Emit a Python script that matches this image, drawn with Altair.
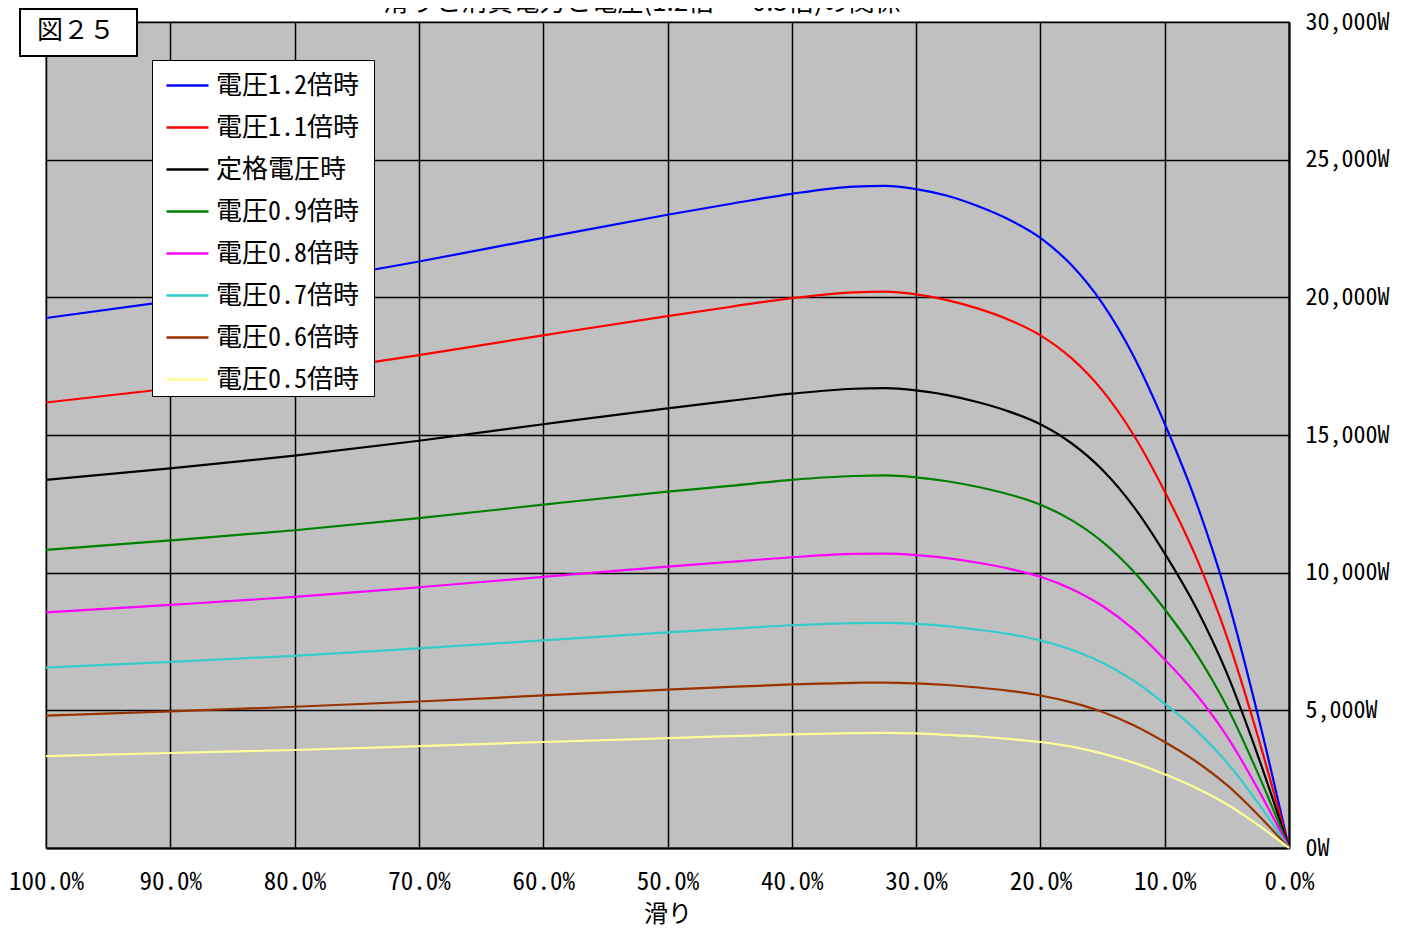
import altair as alt
import pandas as pd

# slip (%) sample points
slip = [100, 90, 80, 70, 60, 50, 45, 40, 35, 32.5, 30, 27.5, 25, 22.5, 20, 17.5, 15, 12.5, 10, 7.5, 5, 2.5, 0]

names = ["電圧1.2倍時", "電圧1.1倍時", "定格電圧時", "電圧0.9倍時",
         "電圧0.8倍時", "電圧0.7倍時", "電圧0.6倍時", "電圧0.5倍時"]
colors = ["#0000FF", "#FF0000", "#000000", "#008000",
          "#FF00FF", "#33CCCC", "#993300", "#FFFF99"]

p_12 = [19250, 19860, 20520, 21300, 22160, 23000, 23390, 23760, 24020, 24050, 23930, 23690,
        23310, 22820, 22160, 21170, 19770, 17860, 15410, 12600, 9140, 4820, 0]
p_11 = [16180, 16690, 17240, 17900, 18620, 19320, 19650, 19970, 20180, 20210, 20110, 19900,
        19590, 19180, 18620, 17790, 16610, 15000, 12950, 10590, 7680, 4050, 0]
p_10 = [13370, 13790, 14250, 14790, 15390, 15970, 16240, 16500, 16680, 16700, 16620, 16450,
        16190, 15850, 15390, 14700, 13730, 12400, 10700, 8750, 6350, 3350, 0]
p_09 = [10830, 11170, 11540, 11980, 12470, 12940, 13150, 13370, 13510, 13530, 13460, 13320,
        13110, 12840, 12470, 11910, 11120, 10040, 8670, 7090, 5140, 2710, 0]
p_08 = [8560, 8830, 9120, 9470, 9850, 10220, 10390, 10560, 10680, 10690, 10640, 10530,
        10360, 10140, 9850, 9410, 8790, 7940, 6850, 5600, 4060, 2140, 0]
p_07 = [6550, 6760, 6980, 7250, 7540, 7830, 7960, 8090, 8170, 8180, 8140, 8060,
        7930, 7770, 7540, 7200, 6730, 6080, 5240, 4290, 3110, 1640, 0]
p_06 = [4810, 4960, 5130, 5320, 5540, 5750, 5850, 5940, 6000, 6010, 5980, 5920,
        5830, 5710, 5540, 5290, 4940, 4460, 3850, 3150, 2290, 1210, 0]
p_05 = [3340, 3450, 3560, 3700, 3850, 3990, 4060, 4130, 4170, 4180, 4160, 4110,
        4050, 3960, 3850, 3680, 3430, 3100, 2680, 2190, 1590, 840, 0]

x_ticks = [0, 10, 20, 30, 40, 50, 60, 70, 80, 90, 100]
y_ticks = [0, 5000, 10000, 15000, 20000, 25000, 30000]

title_text = "滑りと消費電力と電圧(1.2倍 ～ 0.5倍)の関係"
fig_label = "図２５"
x_title = "滑り"

series = [p_12, p_11, p_10, p_09, p_08, p_07, p_06, p_05]
rows = []
for name, vals in zip(names, series):
    for s, v in zip(slip, vals):
        rows.append({"series": name, "slip": s, "power": v})
df = pd.DataFrame(rows)

MONO = "Noto Sans Mono CJK JP, DejaVu Sans Mono, monospace"
SANS = "Noto Sans CJK JP, Noto Sans, sans-serif"

lines = alt.Chart(df).mark_line(strokeWidth=2.2, interpolate="monotone").encode(
    x=alt.X("slip:Q",
            scale=alt.Scale(domain=[0, 100], reverse=True, nice=False),
            axis=alt.Axis(values=x_ticks,
                          labelExpr="format(datum.value, '.1f') + '%'",
                          title=x_title, grid=True, gridColor="#000000", gridWidth=1.5,
                          gridOpacity=1, domain=True, domainColor="#000000", domainWidth=2,
                          ticks=False, labelPadding=21, labelFontSize=25, labelFont=MONO,
                          labelColor="#000000", labelOverlap=False, labelFlush=False,
                          titleFont=SANS, titleFontSize=24, titleFontWeight="normal",
                          titleColor="#000000", titlePadding=8)),
    y=alt.Y("power:Q",
            scale=alt.Scale(domain=[0, 30000], nice=False),
            axis=alt.Axis(orient="right", values=y_ticks,
                          labelExpr="format(datum.value, ',') + 'W'",
                          title=None, grid=True, gridColor="#000000", gridWidth=1.5,
                          gridOpacity=1, domain=True, domainColor="#000000", domainWidth=2,
                          ticks=False, labelPadding=16, labelFontSize=24, labelFont=MONO,
                          labelColor="#000000", labelAlign="left", labelBaseline="middle",
                          labelOverlap=False, labelFlush=False)),
    color=alt.Color("series:N",
                    scale=alt.Scale(domain=names, range=colors),
                    sort=names,
                    legend=alt.Legend(orient="none", legendX=106, legendY=38,
                                      title=" ", titleOrient="right", titleFontSize=8,
                                      titlePadding=12,
                                      symbolType="stroke", symbolSize=1764,
                                      symbolStrokeWidth=2.5, labelFontSize=26,
                                      labelFont=MONO, labelColor="#000000",
                                      labelOffset=6, labelLimit=400,
                                      padding=3, symbolOffset=10, rowPadding=6,
                                      fillColor="#FFFFFF", strokeColor="#000000")),
    order=alt.Order("slip:Q", sort="descending"),
)

box = alt.Chart(pd.DataFrame({"label": [fig_label]})).mark_rect(
    fill="#FFFFFF", stroke="#000000", strokeWidth=2
).encode(x=alt.value(-26), x2=alt.value(91), y=alt.value(-13), y2=alt.value(34))

box_text = alt.Chart(pd.DataFrame({"label": [fig_label]})).mark_text(
    font=SANS, fontSize=26, color="#000000", align="center", baseline="middle"
).encode(x=alt.value(30), y=alt.value(9), text="label:N")

title = alt.Chart(pd.DataFrame({"t": [title_text]})).mark_text(
    font=SANS, fontSize=26, color="#000000", align="center", baseline="bottom"
).encode(x=alt.value(596), y=alt.value(-6), text="t:N")

chart = alt.layer(lines, box, box_text, title).properties(
    width=1243, height=826,
    autosize=alt.AutoSizeParams(type="none"),
    padding={"left": 38, "top": 14, "right": 121, "bottom": 79},
    background="#FFFFFF",
).configure_view(fill="#C0C0C0", stroke="#808080", strokeWidth=1.5)

chart.save("out.html", embed_options={"renderer": "svg", "actions": False})
